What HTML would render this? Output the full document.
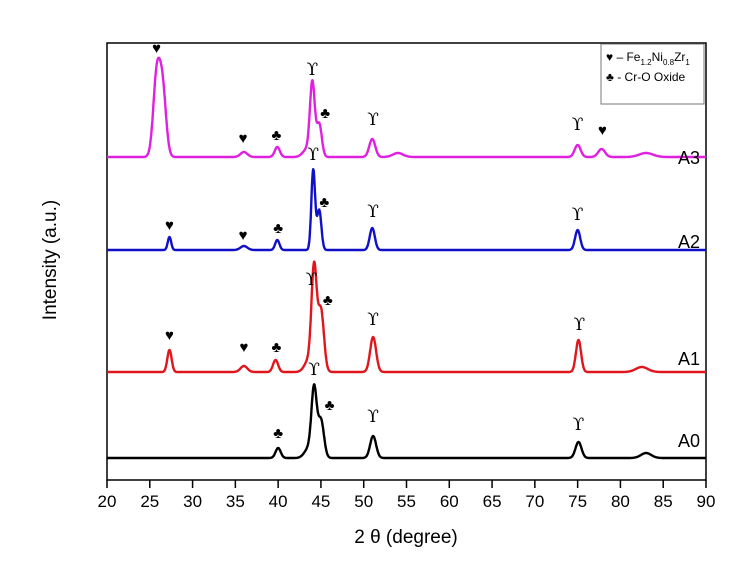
<!DOCTYPE html>
<html><head><meta charset="utf-8"><style>
body{margin:0;background:#fff;width:754px;height:583px;overflow:hidden}
svg text{font-family:"Liberation Sans",sans-serif}
</style></head><body>
<svg id="chart" width="754" height="583" viewBox="0 0 754 583">
<rect x="107" y="43" width="599" height="437" fill="none" stroke="#000" stroke-width="1.5"/>
<g id="axis"></g><g id="series"></g><g id="marks"></g>
<text x="406" y="543" font-size="19" text-anchor="middle">2 θ (degree)</text>
<text transform="translate(56,260) rotate(-90)" font-size="19" text-anchor="middle">Intensity (a.u.)</text>
<g>
<rect x="601" y="44" width="103" height="60" fill="#fff" stroke="#777" stroke-width="1"/>
<text x="606" y="61" font-size="12">♥ – Fe<tspan font-size="8" dy="4">1.2</tspan><tspan dy="-4">Ni</tspan><tspan font-size="8" dy="4">0.8</tspan><tspan dy="-4">Zr</tspan><tspan font-size="8" dy="4">1</tspan></text>
<text x="606" y="81" font-size="12">♣ - Cr-O Oxide</text>
</g>
</svg>
<script>
const xTicks=[20,25,30,35,40,45,50,55,60,65,70,75,80,85,90];
const seriesNames=["A0","A1","A2","A3"];
const seriesColors=["#000000","#e0161c","#1010c8","#e020e0"];
const offsets=[22,108,230,323];
const peaksA0=[[40,10,.3],[43.6,10,.5],[44.2,66,.3],[45.0,38,.35],[51.1,22,.35],[75.1,16,.35],[83,5,.6]];
const peaksA1=[[27.3,22,.25],[36,6,.4],[39.7,12,.3],[43.6,12,.5],[44.2,100,.3],[45.0,62,.35],[51.1,35,.35],[75.1,32,.3],[82.5,5,.7]];
const peaksA2=[[27.3,13,.2],[36,4,.4],[39.9,10,.25],[44.1,80,.22],[44.8,40,.25],[51.0,22,.3],[75.0,20,.3]];
const peaksA3=[[25.8,78,.4],[26.5,66,.4],[36,5,.4],[39.9,10,.3],[43.4,8,.5],[44.0,72,.28],[44.8,33,.3],[51.0,18,.35],[54,4,.6],[75.0,12,.35],[77.8,8,.4],[83,4,.8]];
const allPeaks=[peaksA0,peaksA1,peaksA2,peaksA3];
const labelY=[440,358,241,157];
const markerList=[
 ["♣",40,438],["ϒ",44.2,375],["♣",46,410],["ϒ",51.1,422],["ϒ",75.1,430],
 ["♥",27.3,340],["♥",36,352],["♣",39.8,352],["ϒ",43.9,285],["♣",45.8,305],["ϒ",51.1,325],["ϒ",75.2,330],
 ["♥",27.3,230],["♥",35.9,240],["♣",40,233],["ϒ",44.1,160],["♣",45.4,207],["ϒ",51.1,217],["ϒ",75,220],
 ["♥",25.8,53],["♥",35.9,143],["♣",39.8,140],["ϒ",44,75],["♣",45.5,118],["ϒ",51.1,125],["ϒ",75,130],["♥",77.9,135]
];
const NS="http://www.w3.org/2000/svg";
const X=v=>107+(v-20)*599/70;
const Y=v=>480-v;
const ax=document.getElementById('axis');
xTicks.forEach(t=>{
 const l=document.createElementNS(NS,'line');
 
 
 l.setAttribute('x1',X(t));l.setAttribute('x2',X(t));l.setAttribute('y1',480);l.setAttribute('y2',488);l.setAttribute('stroke','#000');l.setAttribute('stroke-width','1.5');ax.appendChild(l);
 const tx=document.createElementNS(NS,'text');
 
 
 tx.setAttribute('x',X(t));tx.setAttribute('y',507);tx.setAttribute('font-size','17');tx.setAttribute('text-anchor','middle');tx.textContent=t;ax.appendChild(tx);
});
const sg=document.getElementById('series');
allPeaks.forEach((pk,i)=>{
 let d='';
 for(let x=20;x<=90.001;x+=0.05){
  let v=offsets[i];
  pk.forEach(p=>{v+=p[1]*Math.exp(-Math.pow((x-p[0])/p[2],2)/2);});
  d+=(d?'L':'M')+X(x).toFixed(1)+' '+Y(v).toFixed(1);
 }
 const pa=document.createElementNS(NS,'path');
 
 
 pa.setAttribute('d',d);pa.setAttribute('fill','none');pa.setAttribute('stroke',seriesColors[i]);pa.setAttribute('stroke-width','2.4');pa.setAttribute('stroke-linejoin','round');sg.appendChild(pa);
 const lb=document.createElementNS(NS,'text');
 
 
 lb.setAttribute('x',700);lb.setAttribute('y',labelY[i]+7);lb.setAttribute('font-size','18');lb.setAttribute('text-anchor','end');lb.textContent=seriesNames[i];sg.appendChild(lb);
});
const mg=document.getElementById('marks');
markerList.forEach(m=>{
 const t=document.createElementNS(NS,'text');
 
 
 t.setAttribute('x',X(m[1]));t.setAttribute('y',m[2]);t.setAttribute('text-anchor','middle');
 t.setAttribute('font-size',m[0]=="ϒ"?'17':'15');
 if(m[0]=="ϒ")t.setAttribute('style','font-family:"DejaVu Serif",serif');
 t.textContent=m[0];mg.appendChild(t);
});
</script>
</body></html>
